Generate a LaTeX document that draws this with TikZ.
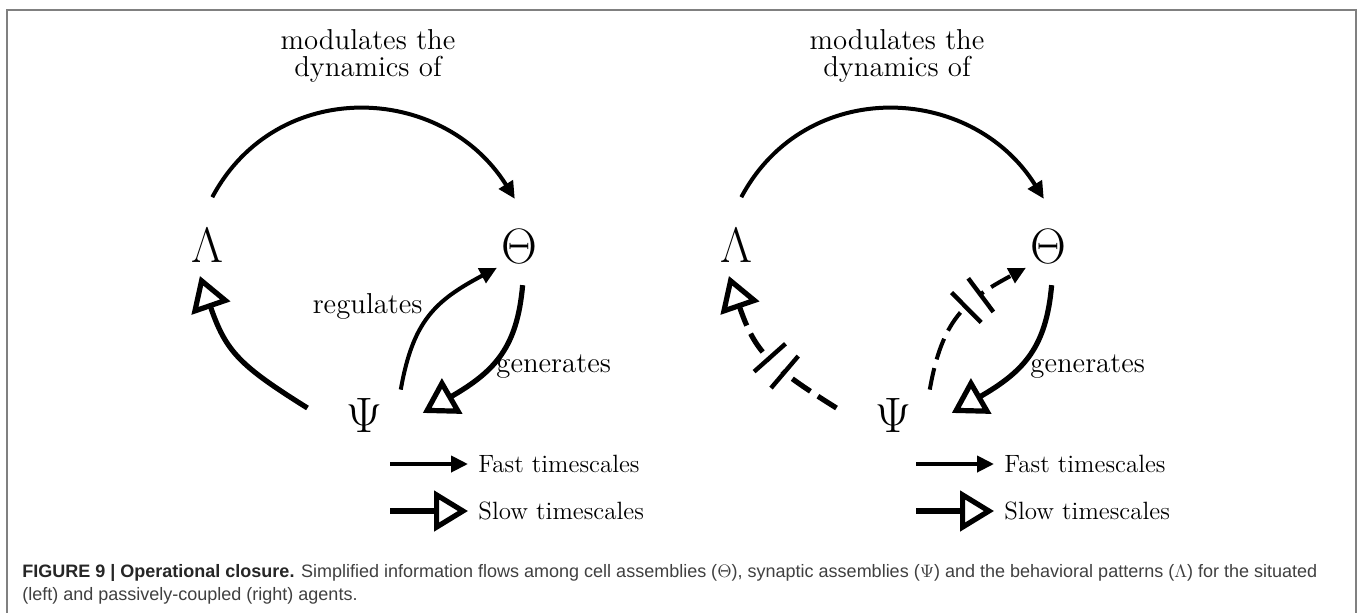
\documentclass[tikz,border=0pt]{standalone}
\usepackage{fontspec}
\usepackage{tikz}
\usetikzlibrary{arrows.meta,positioning,shapes.geometric}
\newfontfamily\capfont{Liberation Sans}
\definecolor{framegray}{RGB}{128,128,128}
\definecolor{capgray}{RGB}{64,64,64}

\begin{document}
\begin{tikzpicture}[x=0.5pt,y=0.5pt,
    greek/.style={circle,inner sep=0pt,minimum size=31pt,font=\fontsize{24.88}{26}\selectfont},
    psi/.style={ellipse,inner sep=0pt,minimum width=58pt,minimum height=32pt,font=\fontsize{24.88}{26}\selectfont},
    lbl/.style={inner sep=0pt,font=\fontsize{14.4}{13.5}\selectfont},
    lgd/.style={inner sep=5pt,font=\fontsize{12.5}{14}\selectfont},
    fast/.style={line width=2pt,-{Triangle[length=8.5pt,width=8pt]}},
    slow/.style={line width=2.6pt,-{Triangle[open,length=17pt,width=20pt]}},
    cutdash/.style={dash pattern=on 11pt off 4.5pt},
    cutbar/.style={fill=black,draw=none,inner sep=0pt,minimum width=2.2pt,minimum height=21pt},
    cutgap/.style={fill=white,draw=none,inner sep=0pt,minimum width=8pt,minimum height=6pt},
    frameline/.style={draw=framegray,line width=1pt},
    captext/.style={inner sep=0pt,font=\capfont\fontsize{9}{11}\selectfont,text=capgray}
  ]
  \useasboundingbox[fill=white] (0,0) rectangle (1358,-612);
  \draw[frameline] (7,-630) -- (7,-10) -- (1356,-10) -- (1356,-630);

  % situated agent (left)
  \node[greek] (lamL) at (207.5,-245.5) {$\Lambda$};
  \node[greek] (theL) at (519.5,-246) {$\Theta$};
  \node[psi] (psiL) at (364.5,-415) {$\Psi$};
  \node[lbl,align=center] (modL) at (368,-56) {modulates the\\dynamics of};
  \node[lbl,anchor=base east] (regL) at (423,-313) {regulates};
  \node[lbl,anchor=base west] (genL) at (496,-372) {generates};

  \draw[fast,shorten <=9.75pt,shorten >=9.6pt] (lamL.98) to[out=62,in=122,out distance=78pt,in distance=78pt] (theL.80);
  \draw[fast] (psiL.35) to[out=80,in=208,out distance=35pt,in distance=35pt] (theL.224);
  \draw[slow,shorten <=4pt] (theL.277) to[out=265,in=30,out distance=35pt,in distance=42pt] (psiL.2);
  \draw[slow] (psiL.173) to[out=148,in=289,out distance=40pt,in distance=40pt] (lamL.256);

  % passively-coupled agent (right)
  \node[greek] (lamR) at (736.5,-245.5) {$\Lambda$};
  \node[greek] (theR) at (1048.5,-246) {$\Theta$};
  \node[psi] (psiR) at (893.5,-415) {$\Psi$};
  \node[lbl,align=center] (modR) at (897,-56) {modulates the\\dynamics of};
  \node[lbl,anchor=base west] (genR) at (1030,-372) {generates};

  \draw[fast,shorten <=9.75pt,shorten >=9.6pt] (lamR.98) to[out=62,in=122,out distance=78pt,in distance=78pt] (theR.80);
  \draw[fast,cutdash] (psiR.35) to[out=80,in=208,out distance=35pt,in distance=35pt]
    node[pos=.64,sloped,cutgap] {} node[pos=.575,sloped,cutbar] {} node[pos=.705,sloped,cutbar] {} (theR.224);
  \draw[slow,shorten <=4pt] (theR.277) to[out=265,in=30,out distance=35pt,in distance=42pt] (psiR.2);
  \draw[slow,cutdash] (psiR.173) to[out=148,in=289,out distance=40pt,in distance=40pt]
    node[pos=.4,sloped,cutgap] {} node[pos=.33,sloped,cutbar] {} node[pos=.47,sloped,cutbar] {} (lamR.256);

  % legends
  \coordinate (fastLs) at (390,-464);
  \coordinate (slowLs) at (390,-511);
  \node[lgd,anchor=west] (fastL) at (468,-464) {Fast timescales};
  \node[lgd,anchor=west] (slowL) at (468,-511) {Slow timescales};
  \draw[fast] (fastLs) -- (fastL);
  \draw[slow] (slowLs) -- (slowL);

  \coordinate (fastRs) at (916,-464);
  \coordinate (slowRs) at (916,-511);
  \node[lgd,anchor=west] (fastR) at (994,-464) {Fast timescales};
  \node[lgd,anchor=west] (slowR) at (994,-511) {Slow timescales};
  \draw[fast] (fastRs) -- (fastR);
  \draw[slow] (slowRs) -- (slowR);

  % caption
  \node[captext,anchor=base west] (cap1) at (22,-577) {{\bfseries\color{black!85}FIGURE 9 | Operational closure.} Simplified information flows among cell assemblies ($\Theta$), synaptic assemblies ($\Psi$) and the behavioral patterns ($\Lambda$) for the situated};
  \node[captext,anchor=base west] (cap2) at (22,-600) {(left) and passively-coupled (right) agents.};
\end{tikzpicture}
\end{document}
